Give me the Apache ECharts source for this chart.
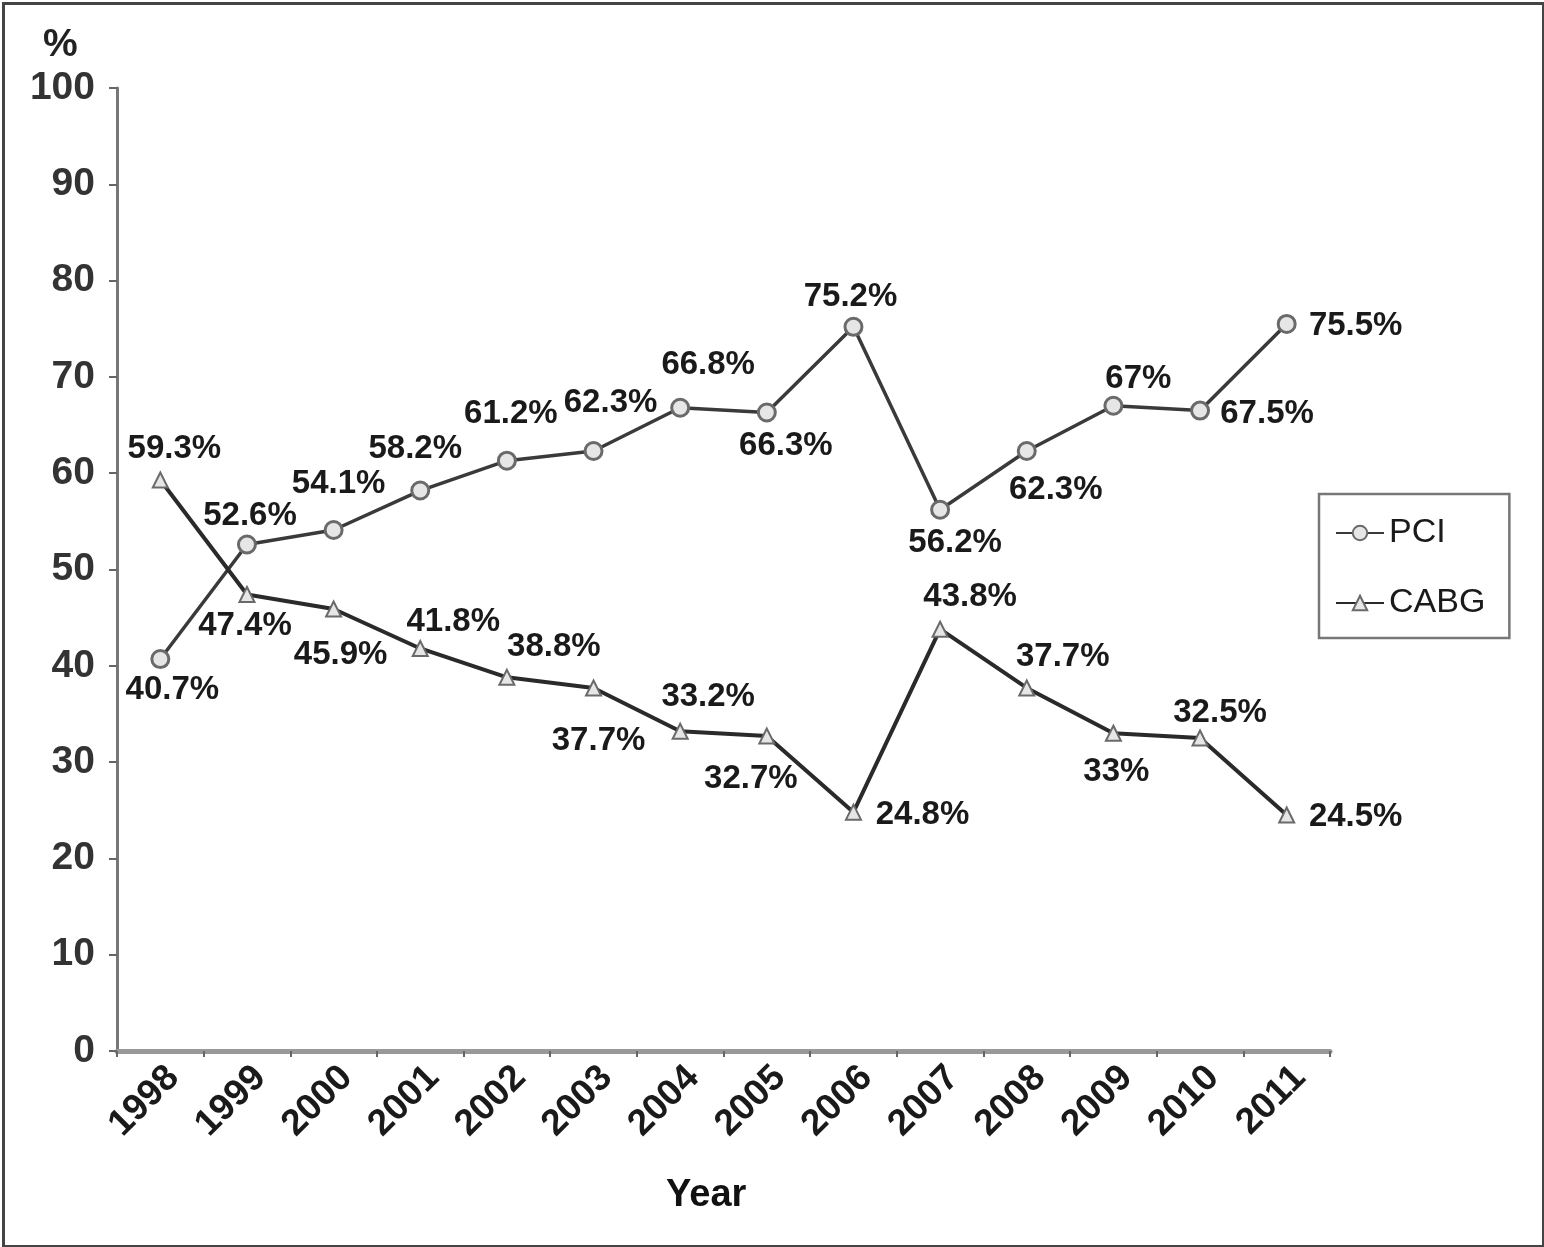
<!DOCTYPE html>
<html>
<head>
<meta charset="utf-8">
<script src="https://cdn.jsdelivr.net/npm/echarts@6/dist/echarts.min.js"></script>
<style>
html,body{margin:0;padding:0;background:#fff;}
#chart{width:1544px;height:1247px;}
</style>
</head>
<body>
<div id="chart"></div>
<script>
const years = ['1998','1999','2000','2001','2002','2003','2004','2005','2006','2007','2008','2009','2010','2011'];
const pciValues = [40.7, 52.6, 54.1, 58.2, 61.3, 62.3, 66.8, 66.3, 75.2, 56.2, 62.3, 67.0, 66.5, 75.5];
const pciLabels = ['40.7%','52.6%','54.1%','58.2%','61.2%','62.3%','66.8%','66.3%','75.2%','56.2%','62.3%','67%','67.5%','75.5%'];
const cabgValues = [59.3, 47.4, 45.9, 41.8, 38.8, 37.7, 33.2, 32.7, 24.8, 43.8, 37.7, 33.0, 32.5, 24.5];
const cabgLabels = ['59.3%','47.4%','45.9%','41.8%','38.8%','37.7%','33.2%','32.7%','24.8%','43.8%','37.7%','33%','32.5%','24.5%'];
const yTicks = [0,10,20,30,40,50,60,70,80,90,100];

// label offsets (layout only)
const pciOffsets = [[12,31],[3,-29],[5,-46],[-5,-42],[4,-47],[17,-48],[28,-43],[19,33],[-3,-30],[15,33],[29,39],[25,-27],[67,3],[69,2]];
const cabgOffsets = [[14,-31],[-2,31],[7,46],[33,-27],[47,-30],[5,53],[28,-34],[-16,43],[69,3],[30,-32],[36,-31],[3,39],[20,-25],[69,2]];

const chart = echarts.init(document.getElementById('chart'));
const FF = 'Liberation Sans, Arial, sans-serif';
const labelFont = {fontFamily:FF, fontWeight:'bold', fontSize:33, color:'#1a1a1a'};

function buildData(values, labels, offsets){
  return values.map((v,i)=>({
    value:v,
    label:{show:true, position:'inside', align:'center', verticalAlign:'middle', offset:offsets[i], formatter:labels[i], ...labelFont}
  }));
}

const option = {
  animation:false,
  backgroundColor:'#fff',
  grid:{left:117, top:88, right:214, bottom:196},
  xAxis:{
    type:'category', data:years, boundaryGap:true,
    axisLine:{lineStyle:{color:'#999', width:5}},
    axisTick:{show:true, alignWithLabel:false, length:6, lineStyle:{color:'#666', width:2}},
    axisLabel:{rotate:45, margin:8, align:'right', verticalAlign:'top', fontFamily:FF, fontWeight:'bold', fontSize:37, color:'#1a1a1a'},
    splitLine:{show:false}
  },
  yAxis:{
    type:'value', min:0, max:100, interval:10,
    axisLine:{show:true, lineStyle:{color:'#777', width:3}},
    axisTick:{show:true, length:8, lineStyle:{color:'#666', width:2}},
    axisLabel:{margin:22, fontFamily:FF, fontWeight:'bold', fontSize:39, color:'#333',
      formatter:function(v){return yTicks.indexOf(v)>=0 ? String(v) : '';}},
    splitLine:{show:false}
  },
  legend:{
    orient:'vertical', left:1319, top:494,
    padding:[22,24,18,16], itemGap:36, itemWidth:48, itemHeight:18,
    borderColor:'#777', borderWidth:2.5, backgroundColor:'#fff',
    textStyle:{fontFamily:FF, fontSize:34, color:'#1a1a1a', lineHeight:34},
    data:['PCI','CABG']
  },
  series:[
    {name:'PCI', type:'line', data:buildData(pciValues,pciLabels,pciOffsets),
     symbol:'circle', symbolSize:17, showAllSymbol:true,
     lineStyle:{color:'#3a3a3a', width:3.5},
     itemStyle:{color:'#e6e6e6', borderColor:'#6a6a6a', borderWidth:3}},
    {name:'CABG', type:'line', data:buildData(cabgValues,cabgLabels,cabgOffsets),
     symbol:'triangle', symbolSize:15, showAllSymbol:true,
     lineStyle:{color:'#2a2a2a', width:4},
     itemStyle:{color:'#e6e6e6', borderColor:'#6a6a6a', borderWidth:2}}
  ],
  graphic:[
    {type:'rect', left:1, top:1, shape:{width:1540, height:1243}, style:{fill:'none', stroke:'#444', lineWidth:3}, silent:true},
    {type:'text', left:43, top:26, style:{text:'%', fontFamily:FF, fontWeight:'bold', fontSize:39, fill:'#222'}},
    {type:'text', left:666, top:1177, style:{text:'Year', fontFamily:FF, fontWeight:'bold', fontSize:38, fill:'#111'}}
  ]
};
chart.setOption(option);
</script>
</body>
</html>
